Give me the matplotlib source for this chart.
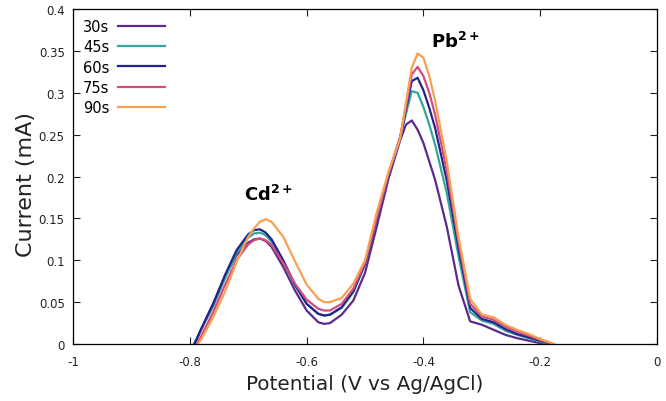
import numpy as np
import matplotlib.pyplot as plt
from matplotlib.ticker import FuncFormatter

# Potential grid (V vs Ag/AgCl)
potential = [-0.80, -0.79, -0.78, -0.76, -0.74, -0.72, -0.70, -0.69, -0.68, -0.67,
             -0.66, -0.64, -0.62, -0.60, -0.58, -0.57, -0.56, -0.54, -0.52, -0.50,
             -0.48, -0.46, -0.44, -0.43, -0.42, -0.41, -0.40, -0.39, -0.38, -0.36,
             -0.34, -0.32, -0.30, -0.28, -0.26, -0.24, -0.22, -0.20, -0.18, -0.16]

# Current (mA) for each deposition time
i_30s = [-0.008, 0.003, 0.018, 0.048, 0.080, 0.106, 0.121, 0.125, 0.126, 0.123,
         0.116, 0.092, 0.064, 0.040, 0.026, 0.024, 0.025, 0.035, 0.052, 0.085,
         0.140, 0.197, 0.243, 0.262, 0.267, 0.256, 0.240, 0.218, 0.196, 0.140,
         0.070, 0.027, 0.023, 0.017, 0.011, 0.007, 0.004, 0.001, -0.004, -0.008]
i_45s = [-0.010, 0.004, 0.018, 0.045, 0.078, 0.109, 0.127, 0.132, 0.133, 0.130,
         0.122, 0.098, 0.070, 0.048, 0.036, 0.034, 0.035, 0.043, 0.062, 0.095,
         0.148, 0.202, 0.246, 0.275, 0.302, 0.300, 0.283, 0.262, 0.238, 0.180,
         0.105, 0.038, 0.028, 0.024, 0.016, 0.011, 0.007, 0.003, -0.001, -0.006]
i_60s = [-0.010, 0.003, 0.019, 0.048, 0.082, 0.112, 0.131, 0.136, 0.137, 0.133,
         0.125, 0.100, 0.071, 0.048, 0.036, 0.034, 0.035, 0.044, 0.063, 0.096,
         0.148, 0.202, 0.246, 0.280, 0.314, 0.318, 0.303, 0.282, 0.258, 0.195,
         0.115, 0.043, 0.030, 0.026, 0.018, 0.012, 0.008, 0.004, 0.000, -0.005]
i_75s = [-0.012, -0.003, 0.010, 0.038, 0.070, 0.100, 0.119, 0.124, 0.126, 0.124,
         0.118, 0.097, 0.072, 0.053, 0.042, 0.040, 0.040, 0.048, 0.066, 0.097,
         0.150, 0.203, 0.247, 0.283, 0.322, 0.331, 0.320, 0.300, 0.274, 0.207,
         0.122, 0.048, 0.033, 0.029, 0.021, 0.015, 0.010, 0.005, 0.000, -0.005]
i_90s = [-0.010, -0.004, 0.006, 0.032, 0.062, 0.098, 0.128, 0.138, 0.146, 0.149,
         0.146, 0.128, 0.099, 0.071, 0.054, 0.050, 0.050, 0.055, 0.072, 0.100,
         0.157, 0.205, 0.245, 0.288, 0.330, 0.347, 0.342, 0.320, 0.291, 0.218,
         0.128, 0.054, 0.035, 0.032, 0.023, 0.017, 0.012, 0.006, 0.001, -0.005]

labels = ["30s", "45s", "60s", "75s", "90s"]
colors = ["#5a2a8c", "#36a59c", "#23238a", "#d24c7c", "#f7a052"]
series = [i_30s, i_45s, i_60s, i_75s, i_90s]

fig = plt.figure(figsize=(6.66, 4.02), dpi=100)
ax = fig.add_axes([0.1096, 0.1418, 0.877, 0.833])

for y, lab, c in zip(series, labels, colors):
    ax.plot(potential, y, color=c, lw=1.6, label=lab)

fmt = FuncFormatter(lambda v, p: "%g" % (round(v, 2) + 0.0))
ax.set_xlim(-1, 0)
ax.set_ylim(0, 0.4)
ax.set_xticks(np.arange(-1, 0.01, 0.2))
ax.set_yticks(np.arange(0, 0.401, 0.05))
ax.xaxis.set_major_formatter(fmt)
ax.yaxis.set_major_formatter(fmt)
ax.tick_params(direction="in", top=True, right=True, length=5, width=0.8,
               labelsize=8.5, colors="#222222")
ax.tick_params(axis="x", pad=8)
ax.tick_params(axis="y", pad=6)
for s in ax.spines.values():
    s.set_linewidth(0.9)

ax.set_xlabel("Potential (V vs Ag/AgCl)", fontsize=14.4, color="#222222", labelpad=4)
ax.set_ylabel("Current (mA)", fontsize=16, color="#222222")
ax.yaxis.set_label_coords(-0.063, 0.48)

ax.text(-0.666, 0.179, r"$\mathbf{Cd^{2+}}$", fontsize=13, ha="center", va="center")
ax.text(-0.346, 0.362, r"$\mathbf{Pb^{2+}}$", fontsize=13, ha="center", va="center")

ax.legend(loc="upper left", frameon=False, markerfirst=False, fontsize=10.5,
          handlelength=3.2, labelspacing=0.35, handletextpad=0.6,
          borderaxespad=0.3, bbox_to_anchor=(0.0, 1.0))

fig.savefig("out.png", dpi=100)
